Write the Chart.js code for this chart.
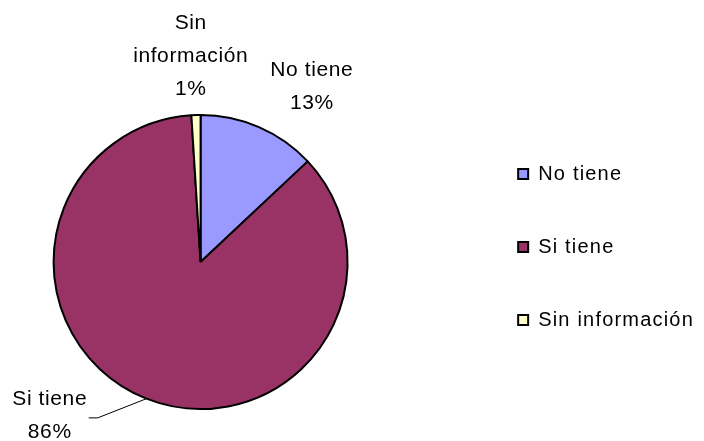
<!DOCTYPE html>
<html>
<head>
<meta charset="utf-8">
<script src="https://cdn.jsdelivr.net/npm/chart.js@4.4.1/dist/chart.umd.min.js"></script>
<style>
    html, body { margin: 0; padding: 0; background: #fff; }
    #wrap { width: 704px; height: 441px; }
</style>
</head>
<body>
<div id="wrap"><canvas id="chartPie"></canvas></div>
<script>
const categories = ['No tiene', 'Si tiene', 'Sin información']
const values = [13, 86, 1]
// how the data labels wrap in the picture
const labelLines = [['No tiene'], ['Si tiene'], ['Sin', 'información']]
const sliceColors = ['#9999FF', '#993366', '#FFFFCC']

// label placement relative to the slice mid point (dx, dy) and leader line flag
const labelNudge = [
    {dx: 37, dy: -4, leader: false},
    {dx: -82, dy: -20, leader: true},
    {dx: -4, dy: -19, leader: false},
]

const FONT = 'Arial, "Liberation Sans", sans-serif'
const SPACING = '1.2px'

const spacingPlugin = {
    id: 'spacing',
    beforeLayout(chart) { chart.ctx.letterSpacing = SPACING },
    afterLayout(chart) {
        // the pie sits further left than the legend leaves room for
        chart.chartArea.left -= 64
        chart.chartArea.width += 64
    },
    beforeDraw(chart) { chart.ctx.letterSpacing = SPACING },
}

const sliceLabels = {
    id: 'sliceLabels',
    afterDraw(chart) {
        const ctx = chart.ctx
        const meta = chart.getDatasetMeta(0)
        ctx.save()
        ctx.letterSpacing = '0.6px'
        ctx.font = '21px ' + FONT
        ctx.fillStyle = '#000'
        ctx.textAlign = 'center'
        ctx.textBaseline = 'middle'
        meta.data.forEach((arc, i) => {
            const p = arc.getProps(['x', 'y', 'startAngle', 'endAngle', 'outerRadius'], true)
            const mid = (p.startAngle + p.endAngle) / 2
            const edgeX = p.x + Math.cos(mid) * p.outerRadius
            const edgeY = p.y + Math.sin(mid) * p.outerRadius
            const baseX = p.x + Math.cos(mid) * (p.outerRadius + 40)
            const baseY = p.y + Math.sin(mid) * (p.outerRadius + 40)
            const n = labelNudge[i]
            const lines = labelLines[i].concat([values[i] + '%'])
            const lx = baseX + n.dx
            const ly = baseY + n.dy
            const lh = 33
            const top = ly - (lines.length - 1) * lh / 2
            lines.forEach((t, k) => {
                ctx.fillText(t, lx, top + k * lh)
            })
            if (n.leader) {
                ctx.strokeStyle = '#000'
                ctx.lineWidth = 1
                ctx.beginPath()
                ctx.moveTo(edgeX, edgeY)
                ctx.lineTo(lx + 48, ly + 2)
                ctx.lineTo(lx + 39, ly + 2)
                ctx.stroke()
            }
        })
        ctx.restore()
    }
}

const pieCanvas = document.getElementById('chartPie').getContext('2d')
const pieChart = new Chart(pieCanvas, {
    type: 'pie',
    data: {
        labels: categories,
        datasets: [
            {
                data: values,
                backgroundColor: sliceColors,
                borderColor: '#000',
                borderWidth: 2,
            }
        ]
    },
    options: {
        responsive: true,
        maintainAspectRatio: false,
        animation: false,
        radius: 147,
        layout: {
            padding: {left: 0, right: 0, top: 111, bottom: 28}
        },
        plugins: {
            tooltip: {enabled: false},
            legend: {
                position: 'right',
                align: 'start',
                labels: {
                    boxWidth: 10,
                    boxHeight: 10,
                    padding: 53,
                    color: '#000',
                    font: {family: FONT, size: 20},
                }
            }
        }
    },
    plugins: [spacingPlugin, sliceLabels]
})
</script>
</body>
</html>
